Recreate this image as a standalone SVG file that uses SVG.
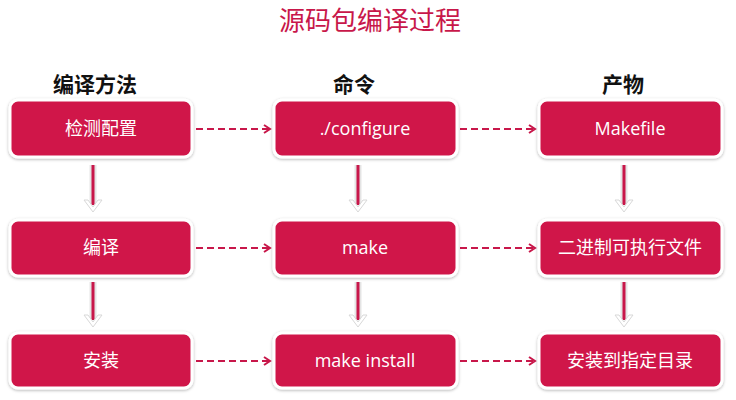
<svg xmlns="http://www.w3.org/2000/svg" width="736" height="400" viewBox="0 0 736 400">
<defs>
<filter id="sh" x="-10%" y="-20%" width="120%" height="140%">
<feDropShadow dx="0" dy="1" stdDeviation="1.5" flood-color="#000" flood-opacity="0.3"/>
</filter>
<marker id="ah" markerWidth="10" markerHeight="10" refX="8" refY="5" orient="auto" markerUnits="userSpaceOnUse">
<path d="M2,1 L8,5 L2,9" fill="none" stroke="#c8174a" stroke-width="2"/>
</marker>
</defs>
<style>
.box{fill:#d0174a;stroke:#fff;stroke-width:3;filter:url(#sh)}
.bt{font-family:"Open Sans","Noto Sans CJK SC",sans-serif;font-size:18px;fill:#fff;text-anchor:middle}
.hd{font-family:"Noto Sans CJK SC",sans-serif;font-size:21px;font-weight:bold;fill:#111;text-anchor:middle}
.dash{stroke:#c8174a;stroke-width:2.2;stroke-dasharray:7,4;fill:none;marker-end:url(#ah)}
.vh{stroke:#e4e4e4;stroke-width:7;fill:none}
.vl{stroke:#c8174a;stroke-width:3;fill:none}
.vc{fill:#fff;stroke:#d8d8d8;stroke-width:1}
</style>
<rect width="736" height="400" fill="#fff"/>
<text x="370" y="30" font-family="'Noto Sans CJK SC',sans-serif" font-size="26" fill="#c8174a" text-anchor="middle">源码包编译过程</text>
<text class="hd" x="95" y="92">编译方法</text>
<text class="hd" x="354" y="92">命令</text>
<text class="hd" x="623" y="92">产物</text>
<g id="connectors">
<line class="dash" x1="196" y1="129" x2="270" y2="129"/>
<line class="dash" x1="460" y1="129" x2="535" y2="129"/>
<line class="dash" x1="196" y1="248" x2="270" y2="248"/>
<line class="dash" x1="460" y1="248" x2="535" y2="248"/>
<line class="dash" x1="196" y1="361" x2="270" y2="361"/>
<line class="dash" x1="460" y1="361" x2="535" y2="361"/>
<g id="v1">
<line class="vh" x1="93" y1="165" x2="93" y2="204"/><line class="vl" x1="93" y1="165" x2="93" y2="205"/><path class="vc" d="M84,200 L93,212 L102,200 L98,200 L93,207 L88,200 Z"/>
</g>
<g id="v2">
<line class="vh" x1="93" y1="282" x2="93" y2="319"/><line class="vl" x1="93" y1="282" x2="93" y2="320"/><path class="vc" d="M84,315 L93,327 L102,315 L98,315 L93,322 L88,315 Z"/>
</g>
<g id="v3">
<line class="vh" x1="358" y1="165" x2="358" y2="204"/><line class="vl" x1="358" y1="165" x2="358" y2="205"/><path class="vc" d="M349,200 L358,212 L367,200 L363,200 L358,207 L353,200 Z"/>
</g>
<g id="v4">
<line class="vh" x1="358" y1="282" x2="358" y2="319"/><line class="vl" x1="358" y1="282" x2="358" y2="320"/><path class="vc" d="M349,315 L358,327 L367,315 L363,315 L358,322 L353,315 Z"/>
</g>
<g id="v5">
<line class="vh" x1="624" y1="165" x2="624" y2="204"/><line class="vl" x1="624" y1="165" x2="624" y2="205"/><path class="vc" d="M615,200 L624,212 L633,200 L629,200 L624,207 L619,200 Z"/>
</g>
<g id="v6">
<line class="vh" x1="624" y1="282" x2="624" y2="319"/><line class="vl" x1="624" y1="282" x2="624" y2="320"/><path class="vc" d="M615,315 L624,327 L633,315 L629,315 L624,322 L619,315 Z"/>
</g>
</g>
<g id="n1"><rect class="box" x="10" y="100" width="182" height="57" rx="8"/><text class="bt" x="101" y="135">检测配置</text></g>
<g id="n2"><rect class="box" x="274" y="100" width="183" height="57" rx="8"/><text class="bt" x="365" y="135">./configure</text></g>
<g id="n3"><rect class="box" x="539" y="100" width="183" height="57" rx="8"/><text class="bt" x="630" y="135">Makefile</text></g>
<g id="n4"><rect class="box" x="10" y="220" width="182" height="56" rx="8"/><text class="bt" x="101" y="254">编译</text></g>
<g id="n5"><rect class="box" x="274" y="220" width="183" height="56" rx="8"/><text class="bt" x="365" y="254">make</text></g>
<g id="n6"><rect class="box" x="539" y="220" width="183" height="56" rx="8"/><text class="bt" x="630" y="254">二进制可执行文件</text></g>
<g id="n7"><rect class="box" x="10" y="333" width="182" height="55" rx="8"/><text class="bt" x="101" y="367">安装</text></g>
<g id="n8"><rect class="box" x="274" y="333" width="183" height="55" rx="8"/><text class="bt" x="365" y="367">make install</text></g>
<g id="n9"><rect class="box" x="539" y="333" width="183" height="55" rx="8"/><text class="bt" x="630" y="367">安装到指定目录</text></g>
</svg>
